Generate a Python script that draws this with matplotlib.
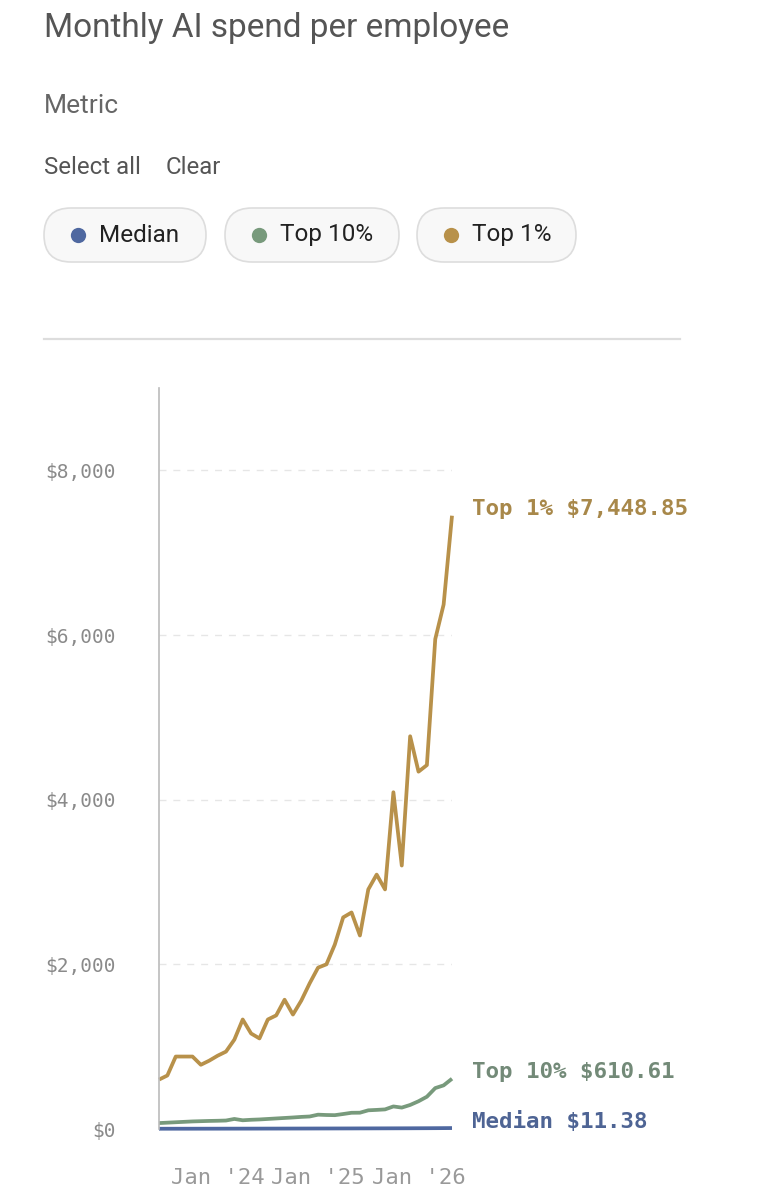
import matplotlib.pyplot as plt
from matplotlib.patches import FancyBboxPatch

# --- data (monthly) ---
months = list(range(36))
tick_pos = [7, 19, 31]
tick_labels = ["Jan '24", "Jan '25", "Jan '26"]

top1 = [600, 650, 880, 880, 880, 780, 830, 890, 940, 1085, 1330, 1160, 1100,
        1330, 1380, 1570, 1390, 1560, 1770, 1960, 2000, 2240, 2570, 2630, 2350,
        2910, 3090, 2910, 4090, 3200, 4770, 4340, 4420, 5950, 6370, 7448.85]
top10 = [72, 77, 82, 87, 92, 95, 98, 100, 103, 122, 106, 112, 116, 122, 128,
         134, 140, 147, 152, 174, 170, 168, 182, 197, 198, 227, 232, 238, 274,
         260, 292, 337, 392, 497, 530, 610.61]
median = [3.2, 3.3, 3.4, 3.5, 3.6, 3.8, 3.9, 4.0, 4.2, 4.3, 4.5, 4.6, 4.8, 5.0,
          5.1, 5.3, 5.5, 5.7, 5.9, 6.1, 6.3, 6.5, 6.7, 6.9, 7.2, 7.4, 7.7, 7.9,
          8.2, 8.5, 8.8, 9.2, 9.6, 10.1, 10.7, 11.38]

names = ['Median', 'Top 10%', 'Top 1%']
line_colors = ['#4f68a0', '#789a7c', '#b8914a']
label_colors = ['#4e6494', '#738a78', '#a8884a']
yticks = [0, 2000, 4000, 6000, 8000]

W, H = 757, 1199
fig = plt.figure(figsize=(W / 100, H / 100), dpi=100)

# header / controls drawn on an overlay in pixel coordinates
ui = fig.add_axes([0, 0, 1, 1])
ui.set_xlim(0, W)
ui.set_ylim(H, 0)
ui.axis('off')

sans = ['Roboto', 'DejaVu Sans']
ui.text(44, 28, 'Monthly AI spend per employee', fontsize=24, color='#555555',
        va='center', ha='left', family=sans)
ui.text(44, 106, 'Metric', fontsize=19, color='#666666', va='center', family=sans)
ui.text(44, 168, 'Select all', fontsize=17.3, color='#555555', va='center', family=sans)
ui.text(166, 168, 'Clear', fontsize=17.3, color='#555555', va='center', family=sans)

pills = [(44, 206), (225, 399), (417, 576)]
for (x0, x1), name, c in zip(pills, names, line_colors):
    ui.add_patch(FancyBboxPatch((x0, 208), x1 - x0, 54,
                                boxstyle='round,pad=0,rounding_size=27',
                                fc='#f8f8f8', ec='#dddddd', lw=1.2))
    ui.plot(x0 + 34, 235, 'o', ms=11, color=c, mec='none')
    ui.text(x0 + 55, 235, name, fontsize=17.5, color='#222222', va='center', family=sans)

ui.plot([44, 680], [339, 339], color='#dddddd', lw=1.6)

# --- chart ---
ax = fig.add_axes([159 / W, 70 / H, 293 / W, 741 / H])
for vals, c in zip([top10, top1, median], [line_colors[1], line_colors[2], line_colors[0]]):
    ax.plot(months, vals, color=c, lw=2.7, solid_joinstyle='round',
            solid_capstyle='butt', clip_on=False)

ax.set_xlim(0, 35)
ax.set_ylim(0, 9000)
ax.set_yticks(yticks)
ax.set_yticklabels(['$' + format(v, ',') for v in yticks])
ax.set_xticks(tick_pos)
ax.set_xticklabels(tick_labels)
ax.tick_params(axis='y', length=0, pad=31, labelsize=14, labelcolor='#8a8a8a')
ax.tick_params(axis='x', length=0, pad=28, labelsize=16, labelcolor='#999999')
for lab in ax.get_xticklabels() + ax.get_yticklabels():
    lab.set_family('DejaVu Sans Mono')

for v in yticks[1:]:
    ax.axhline(v, color='#e6e6e6', lw=1, ls=(0, (5, 5)), zorder=0)

for s in ['top', 'right', 'bottom']:
    ax.spines[s].set_visible(False)
ax.spines['left'].set_color('#bbbbbb')
ax.spines['left'].set_linewidth(1.2)
ax.patch.set_alpha(0)

ends = [('Median', median[-1]), ('Top 10%', top10[-1]), ('Top 1%', top1[-1])]
for (name, v), c in zip(ends, label_colors):
    ax.annotate(f'{name} ${v:,.2f}', xy=(months[-1], v), xytext=(14.5, 4.5),
                textcoords='offset points', va='center', ha='left',
                fontsize=16.2, fontweight='bold', color=c, family='DejaVu Sans Mono',
                annotation_clip=False)

fig.savefig('out.png', dpi=100)
